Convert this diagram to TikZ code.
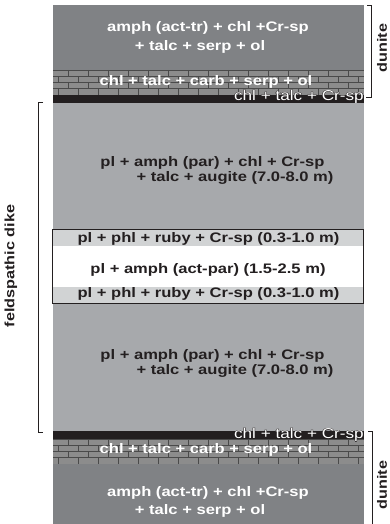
\documentclass[tikz,border=0pt]{standalone}
\usepackage{fontspec}
\setmainfont{Liberation Sans}[FakeStretch=1.2]
\definecolor{dkgray}{HTML}{808285}
\definecolor{ltgray}{HTML}{A7A9AC}
\definecolor{phlgray}{HTML}{D1D3D4}
\definecolor{inkblack}{HTML}{231F20}
\definecolor{brickfill}{HTML}{8C8C8C}
\definecolor{mortarcol}{HTML}{4A4A4A}
\newcommand\outltext[1]{\leavevmode\rlap{\color{inkblack}\kern0.5pt#1}\rlap{\color{inkblack}\kern-0.5pt#1}\rlap{\color{inkblack}\raisebox{0.5pt}{#1}}\rlap{\color{inkblack}\raisebox{-0.5pt}{#1}}{\color{white}#1}}
\tikzset{
  lbl/.style={inner sep=0pt, font=\fontsize{13.8}{16}\selectfont\bfseries},
  wlbl/.style={lbl, text=white},
  klbl/.style={lbl, text=inkblack},
  thinlbl/.style={inner sep=0pt, font=\fontsize{14.3}{16}\selectfont},
  sidelbl/.style={inner sep=0pt, rotate=90, text=inkblack, font=\fontsize{13.5}{16}\selectfont\bfseries},
  bracket/.style={draw=inkblack, line width=0.9pt},
  mortar/.style={draw=mortarcol, line width=0.7pt}
}
\newcommand\brickband[2]{%
  \begin{scope}
    \clip (53,#1) rectangle (364,#2);
    \fill[brickfill] (53,#1) rectangle (364,#2);
    \foreach \i in {0,...,3} {
      \pgfmathsetmacro\yy{#1+6.25*\i}
      \pgfmathsetmacro\off{mod(\i,2)*10}
      \draw[mortar] (53,\yy) -- (364,\yy);
      \foreach \k in {0,...,16} {\draw[mortar] ({48+\off+20*\k},\yy) -- ++(0,6.25);}
    }
    \draw[mortar] (53,#2) -- (364,#2);
  \end{scope}}
\begin{document}
\begin{tikzpicture}[x=1pt,y=-1pt]
\useasboundingbox (0,0) rectangle (390,524);
% layers
\fill[dkgray] (53,5) rectangle (364,70);
\brickband{70}{95}
\fill[inkblack] (53,95) rectangle (364,103);
\fill[ltgray] (53,103) rectangle (364,431);
\fill[inkblack] (53,431) rectangle (364,439);
\brickband{439}{464}
\fill[dkgray] (53,464) rectangle (364,524);
% central boxes
\fill[phlgray] (53,229) rectangle (364,246);
\fill[white] (53,246) rectangle (364,287);
\fill[phlgray] (53,287) rectangle (364,303);
\draw[inkblack, line width=0.8pt] (52.5,229) rectangle (363.5,303);
% texts upper
\node[wlbl] (u1) at (208,28) {amph (act-tr) + chl +Cr-sp};
\node[wlbl] (u2) at (200,47) {+ talc + serp + ol};
\node[wlbl] (ub) at (206,82) {chl + talc + carb + serp + ol};
\node[thinlbl, anchor=base east] (uc) at (364,100.5) {\outltext{chl + talc + Cr-sp}};
\node[klbl] (d1) at (212.5,163) {pl + amph (par) + chl + Cr-sp};
\node[klbl] (d2) at (235,178) {+ talc + augite (7.0-8.0 m)};
\node[klbl] (p1) at (208.5,239) {pl + phl + ruby + Cr-sp (0.3-1.0 m)};
\node[klbl] (w1) at (208,270) {pl + amph (act-par) (1.5-2.5 m)};
\node[klbl] (p2) at (208.5,294) {pl + phl + ruby + Cr-sp (0.3-1.0 m)};
\node[klbl] (d3) at (212.5,356) {pl + amph (par) + chl + Cr-sp};
\node[klbl] (d4) at (235,371) {+ talc + augite (7.0-8.0 m)};
\node[thinlbl, anchor=base east] (lc) at (364,438.5) {\outltext{chl + talc + Cr-sp}};
\node[wlbl] (lb) at (206,450) {chl + talc + carb + serp + ol};
\node[wlbl] (l1) at (208,493) {amph (act-tr) + chl +Cr-sp};
\node[wlbl] (l2) at (200,511) {+ talc + serp + ol};
% brackets
\coordinate (ut) at (371,5);
\coordinate (ub2) at (371,97);
\draw[bracket] (367,5) -- (ut) -- (ub2) -- (366,97);
\coordinate (lt) at (372,431);
\draw[bracket] (368,431) -- (lt) -- (372,524);
\coordinate (dt) at (38,102);
\coordinate (db) at (38,432);
\draw[bracket] (43,102) -- (dt) -- (db) -- (43,432);
% side labels
\node[sidelbl] (dun1) at (382,48) {dunite};
\node[sidelbl] (dun2) at (382,485) {dunite};
\node[sidelbl] (fd) at (11,266) {feldspathic dike};
\end{tikzpicture}
\end{document}
